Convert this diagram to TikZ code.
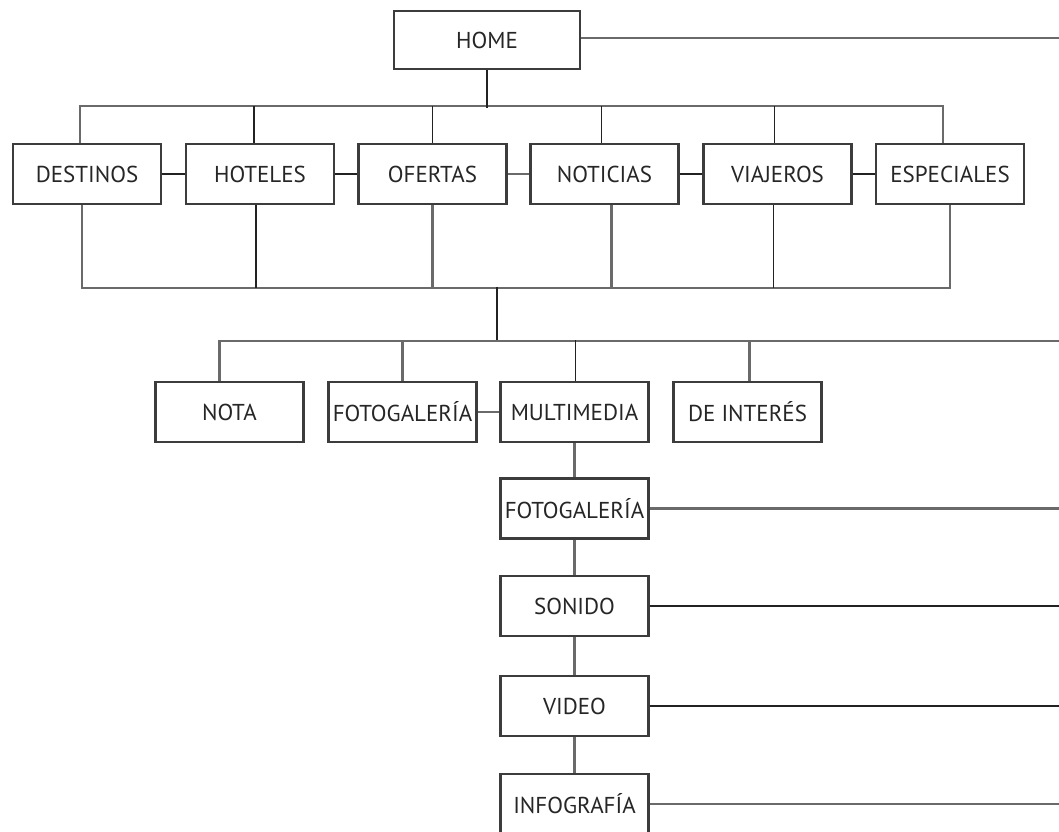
\documentclass[tikz,border=0pt]{standalone}
\usepackage{fontspec}
\setmainfont{PT Sans}
\definecolor{boxc}{HTML}{3C3C3C}
\definecolor{lnk}{HTML}{222222}
\definecolor{lng}{HTML}{6A6A6A}
\definecolor{txt}{HTML}{262626}
\begin{document}
\begin{tikzpicture}[x=1pt,y=-1pt,
  box/.style={draw=boxc, line width=2.2pt, rectangle, minimum width=148pt, minimum height=60pt,
    inner sep=0pt, text=txt, font=\fontsize{23}{27}\selectfont},
  ln/.style={draw=lnk, line width=1.9pt},
  lg/.style={draw=lng, line width=2.6pt}]
\useasboundingbox (0,0) rectangle (1059,831);
\clip (0,0) rectangle (1059,831);
\fill[white] (0,0) rectangle (1059,831);
% top
\node[box, minimum width=186pt, minimum height=58pt] (home) at (487,40) {HOME};
\coordinate (homeR) at (1059,38);
\draw[lg] (home.east |- homeR) -- (homeR);
% row 1
\node[box] (dest) at (87,174) {DESTINOS};
\node[box] (hot)  at (260,174) {HOTELES};
\node[box] (ofe)  at (432.5,174) {OFERTAS};
\node[box] (noti) at (604.5,174) {NOTICIAS};
\node[box] (via)  at (777.5,174) {VIAJEROS};
\node[box] (esp)  at (950,174) {ESPECIALES};
% upper bus
\draw[lg] ([xshift=-7pt]dest.north) -- ++(0,-37) -| ([xshift=-7pt]esp.north);
\draw[ln] (home.south) -- ++(0,38);
\draw[ln] ([xshift=-6pt]hot.north) -- ++(0,-37);
\draw[ln] (ofe.north) -- ++(0,-37);
\draw[ln] ([xshift=-3pt]noti.north) -- ++(0,-37);
\draw[ln] ([xshift=-3pt]via.north) -- ++(0,-37);
% side links
\draw[ln] (dest.east) -- (hot.west);
\draw[ln] (hot.east) -- (ofe.west);
\draw[lg] (ofe.east) -- (noti.west);
\draw[ln] (noti.east) -- (via.west);
\draw[ln] (via.east) -- (esp.west);
% lower bus
\draw[lg] ([xshift=-5pt]dest.south) -- ++(0,83) -| (esp.south);
\draw[ln] ([xshift=-4pt]hot.south) -- ++(0,83);
\draw[lg] (ofe.south) -- ++(0,83);
\draw[lg] ([xshift=7pt]noti.south) -- ++(0,83);
\draw[ln] ([xshift=-4pt]via.south) -- ++(0,83);
% row 2
\node[box] (nota) at (229.5,412) {NOTA};
\node[box] (fot)  at (402.5,412) {FOTOGALERÍA};
\node[box] (mul)  at (574.5,412) {MULTIMEDIA};
\node[box] (dei)  at (747.5,412) {DE INTERÉS};
\coordinate (m1) at (497,287);
\coordinate (b2R) at (1059,341);
\draw[ln] (m1) -- (m1 |- b2R);
\draw[lg] ([xshift=-10pt]nota.north) |- (b2R);
\draw[lg] (fot.north) -- ++(0,-41);
\draw[ln] ([xshift=1pt]mul.north) -- ++(0,-41);
\draw[lg] ([xshift=2pt]dei.north) -- ++(0,-41);
\draw[lg] (fot.east) -- (mul.west);
% column
\node[box] (fot2) at (574.5,508.5) {FOTOGALERÍA};
\node[box] (son)  at (574.5,606) {SONIDO};
\node[box] (vid)  at (574.5,706) {VIDEO};
\node[box] (inf)  at (574.5,804) {INFOGRAFÍA};
\draw[lg] (mul.south) -- (fot2.north);
\draw[lg] (fot2.south) -- (son.north);
\draw[lg] (son.south) -- (vid.north);
\draw[lg] (vid.south) -- (inf.north);
\draw[lg] (fot2.east) -- (fot2.east -| b2R);
\draw[ln] (son.east) -- (son.east -| b2R);
\draw[ln] (vid.east) -- (vid.east -| b2R);
\draw[lg] (inf.east) -- (inf.east -| b2R);
\end{tikzpicture}
\end{document}
